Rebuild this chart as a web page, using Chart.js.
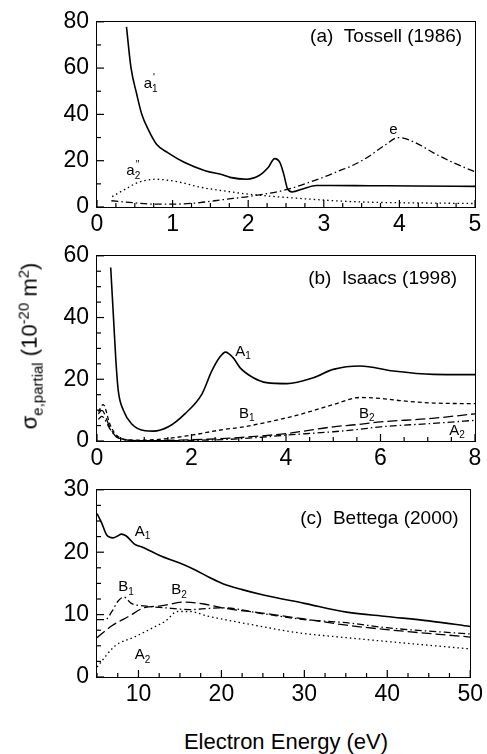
<!DOCTYPE html>
<html>
<head>
<meta charset="utf-8">
<script src="https://cdn.jsdelivr.net/npm/chart.js@4/dist/chart.umd.min.js"></script>
<style>
  body { margin: 0; background: #fff; width: 487px; height: 754px; position: relative; overflow: hidden;
         font-family: "Liberation Sans", Arial, sans-serif; color: #000; }
  canvas { position: absolute; left: 0; }
  .frame { position: absolute; border: 1.6px solid #000; box-sizing: border-box; pointer-events: none; }
  #ytitle { position: absolute; left: 30px; top: 346px; transform: translate(-50%, -50%) rotate(-90deg);
            font-size: 22px; white-space: nowrap; line-height: 1; }
  #ytitle sub, #ytitle sup { font-size: 15px; }
  #xtitle { position: absolute; left: 286px; top: 742px; transform: translate(-50%, -50%);
            font-size: 22px; white-space: nowrap; }
</style>
</head>
<body>
<canvas id="chartA" width="487" height="245" style="top:0px"></canvas>
<canvas id="chartB" width="487" height="245" style="top:234px"></canvas>
<canvas id="chartC" width="487" height="247" style="top:468px"></canvas>
<div id="ytitle">σ<sub>e,partial</sub> (10<sup>-20</sup> m<sup>2</sup>)</div>
<div id="xtitle">Electron Energy (eV)</div>
<script>
// ---- (a) Tossell (1986) ----
const xTicksA = [0, 1, 2, 3, 4, 5];
const yTicksA = [0, 20, 40, 60, 80];
const energyA_a1 = [0.39, 0.45, 0.525, 0.59, 0.68, 0.79, 0.94, 1.16, 1.43, 1.67, 1.76, 1.98, 2.15, 2.27, 2.35, 2.42, 2.47, 2.52, 2.58, 2.73, 2.9, 3.08, 3.6, 4.2, 5.0];
const sigmaA_a1  = [77.8, 60.1, 48.8, 40.3, 33.3, 27.0, 23.4, 19.2, 15.7, 13.8, 12.8, 12.0, 13.7, 17.3, 20.9, 19.2, 14.2, 7.9, 6.5, 7.9, 9.3, 9.3, 9.2, 9.1, 8.9];
const energyA_a2 = [0.2, 0.28, 0.37, 0.5, 0.63, 0.77, 1.08, 1.36, 1.67, 2.02, 2.64, 3.21, 3.57, 4.45, 5.0];
const sigmaA_a2  = [4.5, 6.0, 7.6, 10.0, 11.4, 12.0, 10.8, 8.6, 7.0, 5.5, 3.8, 2.6, 2.1, 1.7, 1.5];
const energyA_e  = [0.19, 0.5, 0.79, 1.1, 1.36, 1.67, 2.02, 2.47, 2.99, 3.21, 3.35, 3.57, 3.79, 3.99, 4.23, 4.45, 4.71, 5.0];
const sigmaA_e   = [2.7, 1.8, 1.2, 1.3, 1.9, 3.2, 4.6, 7.2, 12.8, 15.7, 17.5, 21.3, 26.3, 30.0, 27.5, 23.4, 19.2, 15.2];

// ---- (b) Isaacs (1998) ----
const xTicksB = [0, 2, 4, 6, 8];
const yTicksB = [0, 20, 40, 60];
const energyB_A1 = [0.29, 0.35, 0.4, 0.45, 0.56, 0.73, 1.02, 1.19, 1.51, 1.86, 2.22, 2.43, 2.6, 2.72, 2.88, 3.03, 3.31, 3.59, 4.02, 4.58, 5.0, 5.57, 6.27, 7.12, 8.0];
const sigmaB_A1  = [56.2, 39.7, 25.9, 16.3, 9.9, 5.6, 3.3, 3.2, 4.6, 8.8, 15.2, 22.7, 27.2, 28.8, 27.0, 23.7, 20.5, 18.9, 18.6, 20.5, 23.2, 24.3, 22.7, 21.6, 21.5];
const energyB_B1 = [0.03, 0.13, 0.27, 0.38, 0.52, 0.73, 1.0, 1.37, 2.0, 2.67, 3.03, 4.01, 4.5, 5.0, 5.57, 6.0, 6.41, 7.12, 8.0];
const sigmaB_B1  = [9.5, 11.8, 5.6, 2.4, 0.8, 0.3, 0.3, 0.6, 1.9, 3.7, 4.4, 7.5, 9.5, 11.8, 14.1, 13.8, 13.1, 12.3, 12.1];
const energyB_B2 = [0.03, 0.1, 0.27, 0.38, 0.52, 0.73, 1.0, 2.0, 3.0, 4.0, 5.0, 5.5, 6.0, 7.0, 8.0];
const sigmaB_B2  = [8.8, 9.9, 4.5, 1.8, 0.6, 0.2, 0.1, 0.4, 1.1, 2.4, 4.6, 5.3, 6.2, 7.2, 8.8];
const energyB_A2 = [0.03, 0.1, 0.27, 0.4, 0.6, 1.0, 2.0, 3.0, 4.0, 5.0, 5.5, 6.0, 7.0, 8.0];
const sigmaB_A2  = [7.0, 8.0, 4.0, 1.5, 0.4, 0.1, 0.2, 0.7, 1.9, 3.0, 3.7, 4.6, 5.6, 6.7];

// ---- (c) Bettega (2000) ----
const xTicksC = [10, 20, 30, 40, 50];
const yTicksC = [0, 10, 20, 30];
const energyC_A1 = [5.0, 5.56, 6.15, 6.94, 7.5, 7.94, 8.53, 9.52, 10.5, 12.7, 14.9, 16.6, 18.5, 20.1, 22.5, 25.2, 30, 35.1, 39.9, 45, 50];
const sigmaC_A1  = [26.2, 24.7, 22.8, 22.3, 22.6, 22.9, 22.6, 21.3, 20.8, 19.4, 18.3, 17.3, 16.0, 15.0, 14.0, 13.1, 11.8, 10.4, 9.7, 9.0, 8.1];
const energyC_B1 = [5.0, 6.0, 6.8, 7.5, 8.25, 9.13, 10.7, 13.1, 16.2, 20.0, 25.2, 30, 35.1, 39.9, 50];
const sigmaC_B1  = [9.2, 9.2, 10.5, 12.1, 12.8, 11.8, 11.4, 11.1, 10.8, 11.1, 10.1, 9.2, 8.7, 7.9, 6.9];
const energyC_B2 = [5.0, 6.8, 8.8, 10.7, 12.7, 15.5, 17.9, 20.0, 25.2, 30, 35.1, 39.9, 50];
const sigmaC_B2  = [6.3, 8.2, 9.7, 11.1, 11.4, 12.0, 11.7, 11.1, 10.2, 9.3, 8.3, 7.6, 6.4];
const energyC_A2 = [5.0, 7.2, 9.5, 11.9, 13.3, 14.7, 16.2, 18.2, 20.4, 23.6, 29.2, 35.1, 39.9, 50];
const sigmaC_A2  = [1.6, 5.0, 6.4, 8.0, 9.0, 10.5, 10.5, 9.8, 9.2, 8.4, 7.1, 6.3, 5.7, 4.5];

const FONT = '"Liberation Sans", Arial, sans-serif';

const DOTTED = [1.5, 3];
const DASHDOT = [7, 3, 1.5, 3];
const SHORTDASH = [4, 3];
const LONGDASH = [10, 4];

function pts(xs, ys) {
  return xs.map((v, i) => ({ x: v, y: ys[i] }));
}

function line(xs, ys, dash) {
  const ds = {
    data: pts(xs, ys),
    borderColor: '#000',
    borderWidth: dash ? 1.3 : 1.6,
    pointRadius: 0,
    fill: false,
    cubicInterpolationMode: 'monotone'
  };
  if (dash) ds.borderDash = dash;
  return ds;
}

// inward ticks, panel title and curve labels
const decor = {
  id: 'decor',
  afterDraw(chart) {
    const o = chart.options.plugins.decor;
    const ctx = chart.ctx;
    const a = chart.chartArea;
    const x = chart.scales.x, y = chart.scales.y;
    ctx.save();
    ctx.fillStyle = '#000';
    const tw = 1.2;
    const isMajor = (v, step) => Math.abs(v / step - Math.round(v / step)) < 1e-6;
    for (let v = x.min; v <= x.max + 1e-9; v += o.xMinor) {
      const px = x.getPixelForValue(v);
      const mj = isMajor(v, o.xMajor);
      const up = mj ? 7 : 4;
      ctx.fillRect(px - tw / 2, a.bottom - up, tw, up);
    }
    for (let v = y.min; v <= y.max + 1e-9; v += o.yMinor) {
      const py = y.getPixelForValue(v);
      const len = isMajor(v, o.yMajor) ? 7 : 4;
      ctx.fillRect(a.left, py - tw / 2, len, tw);
    }

    ctx.textBaseline = 'middle';
    ctx.textAlign = 'right';
    ctx.font = '19px ' + FONT;
    ctx.fillText(o.title.text, x.getPixelForValue(o.title.x), y.getPixelForValue(o.title.y));

    ctx.textAlign = 'left';
    o.labels.forEach(l => {
      ctx.font = '15px ' + FONT;
      const wBase = ctx.measureText(l.text).width;
      ctx.font = '10px ' + FONT;
      const wSub = ctx.measureText(l.sub || '').width;
      const wSup = ctx.measureText(l.sup || '').width;
      const w = wBase + Math.max(wSub, wSup);
      let px = x.getPixelForValue(l.x) - w / 2;
      const py = y.getPixelForValue(l.y);
      ctx.font = '15px ' + FONT;
      ctx.fillText(l.text, px, py);
      px += wBase;
      ctx.font = '10px ' + FONT;
      if (l.sub) ctx.fillText(l.sub, px, py + 5);
      if (l.sup) ctx.fillText(l.sup, px + (l.sub ? 1 : 0), py - 6);
    });
    ctx.restore();
  }
};

// box round the plot, placed from the chart's own plot area
function addFrame(chart) {
  const a = chart.chartArea;
  const cv = chart.canvas;
  const f = document.createElement('div');
  f.className = 'frame';
  f.style.left = (cv.offsetLeft + a.left - 0.8) + 'px';
  f.style.top = (cv.offsetTop + a.top - 0.8) + 'px';
  f.style.width = (a.right - a.left + 1.6) + 'px';
  f.style.height = (a.bottom - a.top + 1.6) + 'px';
  document.body.appendChild(f);
}

function makeChart(id, datasets, xr, yr, xTicks, yTicks, decorOpts) {
  const chart = new Chart(document.getElementById(id), {
    type: 'line',
    data: { datasets: datasets },
    options: {
      responsive: false,
      animation: false,
      layout: { padding: { top: 18, right: 12, left: 0, bottom: 0 } },
      plugins: { legend: { display: false }, tooltip: { enabled: false }, decor: decorOpts },
      scales: {
        x: {
          type: 'linear', min: xr[0], max: xr[1],
          grid: { display: false, drawTicks: false, tickLength: 0 }, border: { display: false },
          afterBuildTicks: s => { s.ticks = xTicks.map(v => ({ value: v })); },
          afterFit: s => { s.height = 38; },
          ticks: { color: '#000', font: { family: FONT, size: 23 }, padding: 4, maxRotation: 0, autoSkip: false }
        },
        y: {
          type: 'linear', min: yr[0], max: yr[1],
          grid: { display: false, drawTicks: false, tickLength: 0 }, border: { display: false },
          afterBuildTicks: s => { s.ticks = yTicks.map(v => ({ value: v })); },
          afterFit: s => { s.width = 97; },
          ticks: { color: '#000', font: { family: FONT, size: 23 }, padding: 8, autoSkip: false }
        }
      }
    },
    plugins: [decor]
  });
  addFrame(chart);
}

makeChart('chartA', [
  line(energyA_a1, sigmaA_a1),
  line(energyA_a2, sigmaA_a2, DOTTED),
  line(energyA_e, sigmaA_e, DASHDOT)
], [0, 5], [0, 80], xTicksA, yTicksA, {
  xMinor: 0.25, xMajor: 1, yMinor: 10, yMajor: 20,
  title: { text: '(a)  Tossell (1986)', x: 4.83, y: 73.5 },
  labels: [
    { text: 'a', sub: '1', sup: "'", x: 0.71, y: 53 },
    { text: 'a', sub: '2', sup: "''", x: 0.48, y: 15.5 },
    { text: 'e', x: 3.92, y: 33.4 }
  ]
});

makeChart('chartB', [
  line(energyB_A1, sigmaB_A1),
  line(energyB_B1, sigmaB_B1, SHORTDASH),
  line(energyB_B2, sigmaB_B2, LONGDASH),
  line(energyB_A2, sigmaB_A2, DASHDOT)
], [0, 8], [0, 60], xTicksB, yTicksB, {
  xMinor: 0.5, xMajor: 2, yMinor: 5, yMajor: 20,
  title: { text: '(b)  Isaacs (1998)', x: 7.62, y: 52.7 },
  labels: [
    { text: 'A', sub: '1', x: 3.09, y: 29 },
    { text: 'B', sub: '1', x: 3.17, y: 8.9 },
    { text: 'B', sub: '2', x: 5.71, y: 8.9 },
    { text: 'A', sub: '2', x: 7.62, y: 3.4 }
  ]
});

makeChart('chartC', [
  line(energyC_A1, sigmaC_A1),
  line(energyC_B1, sigmaC_B1, DASHDOT),
  line(energyC_B2, sigmaC_B2, LONGDASH),
  line(energyC_A2, sigmaC_A2, DOTTED)
], [5, 50], [0, 30], xTicksC, yTicksC, {
  xMinor: 2.5, xMajor: 10, yMinor: 2.5, yMajor: 10,
  title: { text: '(c)  Bettega (2000)', x: 48.6, y: 25.3 },
  labels: [
    { text: 'A', sub: '1', x: 10.5, y: 23.3 },
    { text: 'B', sub: '1', x: 8.5, y: 14.4 },
    { text: 'B', sub: '2', x: 14.9, y: 13.9 },
    { text: 'A', sub: '2', x: 10.5, y: 3.5 }
  ]
});
</script>
</body>
</html>
